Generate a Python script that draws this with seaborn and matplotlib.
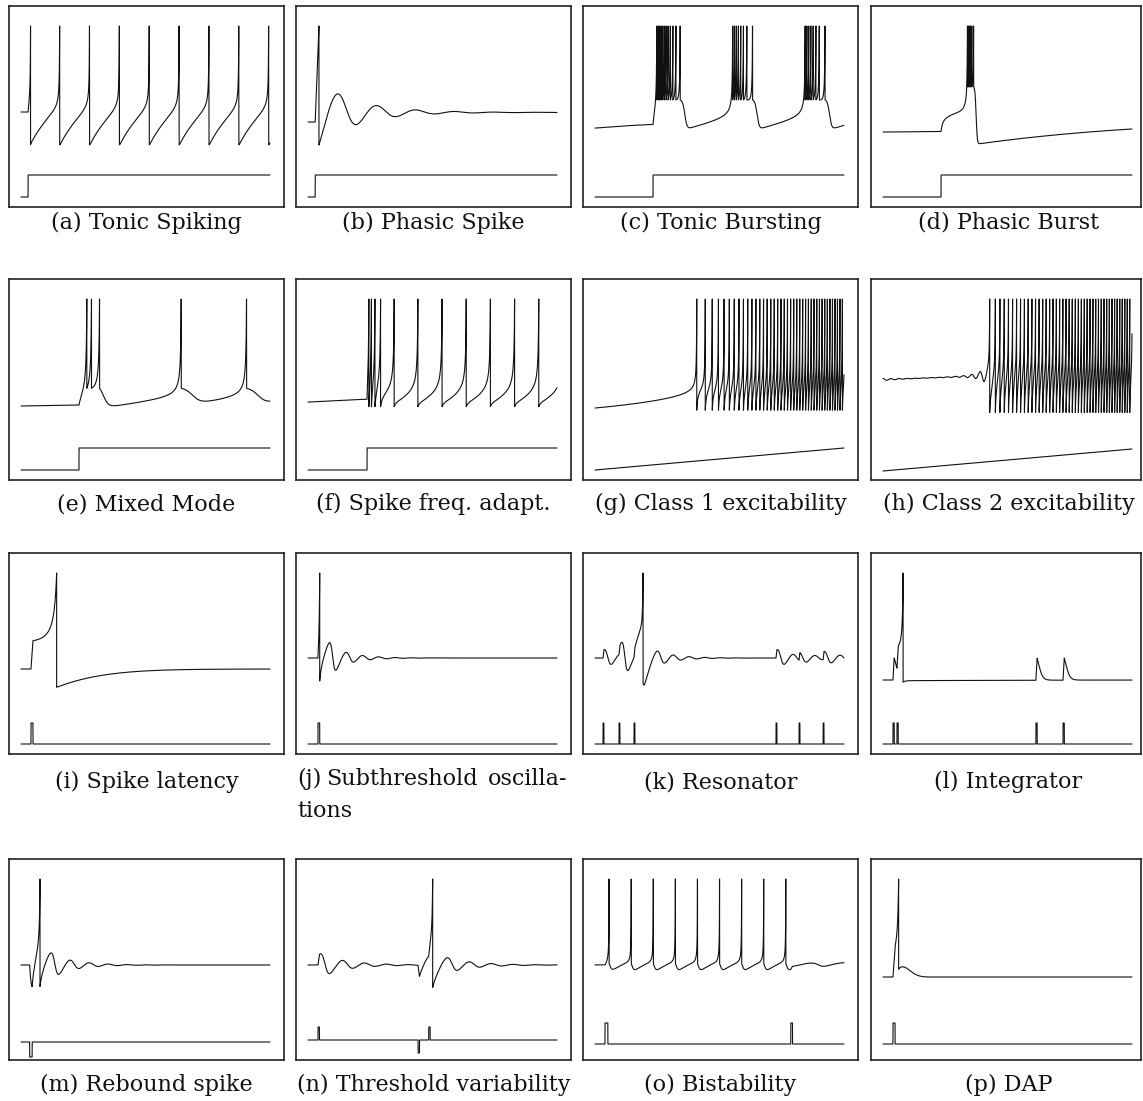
import numpy as np
import matplotlib
matplotlib.use("Agg")
import matplotlib.pyplot as plt
import seaborn as sns
import pandas as pd

# ---------------------------------------------------------------
# Captions of the sixteen firing patterns
CAPTIONS = ["(a) Tonic Spiking", "(b) Phasic Spike", "(c) Tonic Bursting",
            "(d) Phasic Burst", "(e) Mixed Mode", "(f) Spike freq. adapt.",
            "(g) Class 1 excitability", "(h) Class 2 excitability",
            "(i) Spike latency", "(j) Subthreshold oscillations",
            "(k) Resonator", "(l) Integrator", "(m) Rebound spike",
            "(n) Threshold variability", "(o) Bistability", "(p) DAP"]

# Two-variable spiking neuron, one parameter set per panel:
#   v' = k (v - vr)(v - vt) - u + I ,  u' = a (b (v - vr) - u)
#   if v >= v_peak:  v <- c,  u <- u + d
V_REST = -70.0
V_PEAK = 30.0
K  = [0.04, 0.01, 0.04, 0.04, 0.04, 0.04, 0.04, 0.014,
      0.01, 0.014, 0.014, 0.04, 0.014, 0.014, 0.04, 0.04]
VT = [-55, -30, -55, -40, -55, -55, -36, -67,
      -42, -67, -67, -40, -67, -67, -55, -55]
A  = [0.085, 0.05, 0.02, 0.01, 0.02, 0.02, 0.02, 0.03,
      0.08, 0.03, 0.03, 0.02, 0.03, 0.03, 0.1, 1.0]
B  = [0.0, 12.0, 0.2, 0.4, 0.2, 0.2, -0.1, 2.5,
      0.0, 2.5, 2.5, -0.1, 2.5, 2.5, 0.26, 0.2]
C  = [-108, -94, -47, -28, -55, -81, -72, -110,
      -89, -97, -99, -72, -95, -96, -60, -62]
D  = [90, 100, 2, 5, 4, 15, 0.5, 0,
      8, -5, -5, 1, -5, -5, 0, -15]
V0 = [-70, -70, -76.3, -71, -71.9, -76.2, -70, -68,
      -70, -70, -70, -70, -70, -70, -61.4, -70]
U0 = [0, 0, 5.37, 1.24, 1.28, 5.26, 0, 0,
      0, 0, 0, 0, 0, 0, 2.24, 0]
T_END = [265, 52, 194, 200, 119, 135, 300, 716,
         100, 350, 360, 100, 300, 260, 437, 60]

# Input current: constant + ramp + rectangular pulses (steps are long pulses)
I_BASE = [0, 0, 0, 0, 0, 0, 0, 0, 0, 0, 0, 0, 0, 0, 4.44, 0]
I_RAMP = [0, 0, 0, 0, 0, 0, 0.1, 0.04, 0, 0, 0, 0, 0, 0, 0, 0]
PULSE_ON = [[7.5], [1.5], [45.2], [46.6], [27.7], [32], [], [],
            [4.0], [14], [11.6, 34.7, 56.4, 261.7, 295, 329.8],
            [4.0, 5.6, 61.4, 72.3], [10.4], [10.4, 114.9, 126],
            [17.5], [2.4]]
PULSE_LEN = [[1e9], [1e9], [1e9], [1e9], [1e9], [1e9], [], [],
             [0.8], [2.4], [1.2] * 6, [0.5] * 4, [3], [1.5, 1.5, 1.5],
             [5], [0.5]]
PULSE_AMP = [[14], [123], [15], [10.5], [10], [60], [], [],
             [38.1], [20], [8] * 6, [48] * 4, [-15], [8, -10, 8],
             [1.0], [60]]

# Bistability panel: a second, switching-off pulse follows the ninth spike.
# It is delivered while the cell passes its resting point, so that the
# trajectory is placed back in the basin of rest.
SWITCH_PANEL = 14
SWITCH_AFTER_SPIKE = 9
SWITCH_AMP = 1.0
SWITCH_WIDTHS = [0.5, 0.75, 1.0, 1.25, 1.5, 1.75, 2.0, 2.25, 2.5,
                 2.75, 3.0, 3.5, 4.0]
SWITCH_FALLBACK = (347.0, 2.5)

# ---------------------------------------------------------------
# Page layout (pixels)
FIG_W, FIG_H = 1143, 1101
COL_X = [9, 296, 583, 871]
COL_W = [275, 275, 275, 270]
ROW_Y = [6, 279, 553, 859]
BOX_H = 201
TRACE_X0, TRACE_X1 = 12, 261          # first / last sample inside box
PEAK_PX = 20                           # spike tip below box top
REST_PX = [106, 116, 116, 125, 125, 117, 129, 101,
           116, 105, 105, 127, 106, 106, 114, 118]
STIM_BASE_PX = [191, 191, 191, 191, 191, 191, 191, 192,
                191, 191, 191, 191, 183, 181, 185, 185]
STIM_UP_PX = [22, 22, 22, 22, 22, 22, 22, 22,
              21, 21, 21, 21, 0, 13, 21, 21]
STIM_DOWN_PX = [0, 0, 0, 0, 0, 0, 0, 0,
                0, 0, 0, 0, 15, 13, 0, 0]
CAPTION_Y = [223, 504, 782, 1085]
N_STEPS = 20000


def stimulus(i, t):
    cur = I_BASE[i] + I_RAMP[i] * t
    for on, ln, amp in zip(PULSE_ON[i], PULSE_LEN[i], PULSE_AMP[i]):
        cur = cur + amp * ((t >= on) & (t < on + ln))
    return cur


def integrate(i, cur, dt, v, u, j0, j1, keep_state=False,
              stop_at_spike=False):
    k, vt, a, b, c, d = K[i], VT[i], A[i], B[i], C[i], D[i]
    n = j1 - j0
    out = np.empty(n)
    vs = np.empty(n) if keep_state else None
    us = np.empty(n) if keep_state else None
    spikes = []
    for j in range(j0, j1):
        out[j - j0] = v
        dv = k * (v - V_REST) * (v - vt) - u + cur[j]
        du = a * (b * (v - V_REST) - u)
        v += dt * dv
        u += dt * du
        if v >= V_PEAK:
            out[j - j0] = V_PEAK
            v, u = c, u + d
            spikes.append(j)
            if stop_at_spike:
                break
        if keep_state:
            vs[j - j0] = v
            us[j - j0] = u
    return out, spikes, vs, us


def simulate(i):
    t = np.linspace(0.0, T_END[i], N_STEPS + 1)
    dt = t[1] - t[0]
    cur = stimulus(i, t)
    out, _, _, _ = integrate(i, cur, dt, float(V0[i]), float(U0[i]),
                             0, len(t))
    return t, out, cur


def simulate_switch_off(i):
    t = np.linspace(0.0, T_END[i], N_STEPS + 1)
    dt = t[1] - t[0]
    cur = stimulus(i, t)
    _, spikes, vs, us = integrate(i, cur, dt, float(V0[i]), float(U0[i]),
                                  0, len(t), keep_state=True)
    chosen = None
    if len(spikes) >= SWITCH_AFTER_SPIKE:
        js = spikes[SWITCH_AFTER_SPIKE - 1]
        nxt = (spikes[SWITCH_AFTER_SPIKE] if len(spikes) > SWITCH_AFTER_SPIKE
               else len(t) - 2)
        # resting point under the holding current
        kk, a, b = K[i], A[i], B[i]
        dd = VT[i] - V_REST
        roots = np.roots([kk, -(kk * dd + b), I_BASE[i]]).real
        x_rest = roots.min()
        u_rest = b * x_rest
        for m in range(js, nxt, 4):
            x = vs[m] - V_REST
            if x >= x_rest or abs(us[m] - u_rest) > 0.2:
                continue
            on = t[m + 1] - dt / 2
            for w in SWITCH_WIDTHS:
                trial = cur + SWITCH_AMP * ((t >= on) & (t < on + w))
                _, sp, _, _ = integrate(i, trial, dt, vs[m], us[m],
                                        m + 1, len(t), stop_at_spike=True)
                if not sp:
                    chosen = trial
                    break
            if chosen is not None:
                break
    if chosen is None:
        on, w = SWITCH_FALLBACK
        chosen = cur + SWITCH_AMP * ((t >= on) & (t < on + w))
    out, _, _, _ = integrate(i, chosen, dt, float(V0[i]), float(U0[i]),
                             0, len(t))
    return t, out, chosen


sns.set_theme(style="white")
plt.rcParams["font.family"] = ["DejaVu Serif"]

fig = plt.figure(figsize=(FIG_W / 100, FIG_H / 100), dpi=100)

for i, caption in enumerate(CAPTIONS):
    row, col = divmod(i, 4)
    x0, y0, bw = COL_X[col], ROW_Y[row], COL_W[col]
    ax = fig.add_axes([x0 / FIG_W, 1 - (y0 + BOX_H) / FIG_H,
                       bw / FIG_W, BOX_H / FIG_H])

    if i == SWITCH_PANEL:
        t, v, cur = simulate_switch_off(i)
    else:
        t, v, cur = simulate(i)
    T = T_END[i]

    # pixel <-> data scales of this panel
    sx = (TRACE_X1 - TRACE_X0) / T
    sy = (REST_PX[i] - PEAK_PX) / (V_PEAK - V_REST)
    ax.set_xlim(-TRACE_X0 / sx, (bw - TRACE_X0) / sx)
    ax.set_ylim(V_PEAK - (BOX_H - PEAK_PX) / sy, V_PEAK + PEAK_PX / sy)

    # stimulus trace drawn below the membrane potential
    rel = cur - cur[0]
    up = rel.max() if rel.max() > 0 else 1.0
    dn = -rel.min() if rel.min() < 0 else 1.0
    px = STIM_BASE_PX[i] - np.where(rel >= 0, rel / up * STIM_UP_PX[i],
                                    rel / dn * STIM_DOWN_PX[i])
    stim_y = V_PEAK - (px - PEAK_PX) / sy

    df = pd.DataFrame({"t": np.concatenate([t, t]),
                       "y": np.concatenate([v, stim_y]),
                       "trace": ["v"] * len(t) + ["I"] * len(t)})
    sns.lineplot(data=df, x="t", y="y", units="trace", estimator=None,
                 sort=False, color="#111111", linewidth=0.8, ax=ax)

    ax.set_xticks([])
    ax.set_yticks([])
    ax.set_xlabel("")
    ax.set_ylabel("")
    for s in ax.spines.values():
        s.set_visible(True)
        s.set_color("#222222")
        s.set_linewidth(1.2)

    cx = (x0 + 275 / 2) / FIG_W
    if i == 9:
        ly = 1 - 779 / FIG_H
        fig.text((x0 + 1) / FIG_W, ly, "(j)", ha="left", va="center",
                 fontsize=16, color="#111111")
        fig.text((x0 + 106) / FIG_W, ly, "Subthreshold", ha="center",
                 va="center", fontsize=16, color="#111111")
        fig.text((x0 + 271) / FIG_W, ly, "oscilla-", ha="right",
                 va="center", fontsize=16, color="#111111")
        fig.text((x0 + 1) / FIG_W, 1 - 811 / FIG_H, "tions", ha="left",
                 va="center", fontsize=16, color="#111111")
    else:
        fig.text(cx, 1 - CAPTION_Y[row] / FIG_H, caption, ha="center",
                 va="center", fontsize=16, color="#111111")

fig.savefig("out.png", dpi=100)
